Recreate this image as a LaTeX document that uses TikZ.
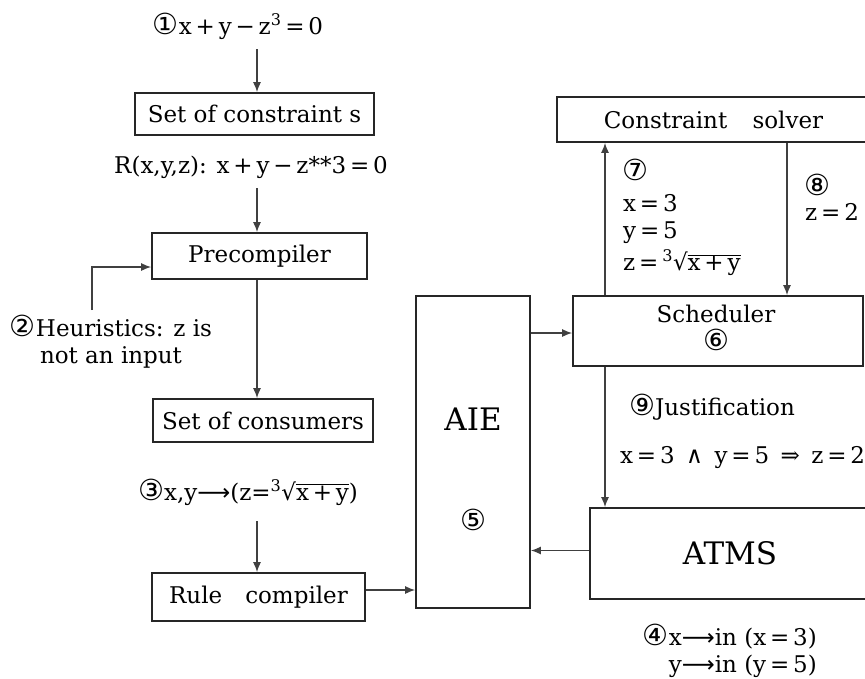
\documentclass[tikz,border=0pt]{standalone}
\usepackage{fontspec}
\setmainfont{DejaVu Serif}
\newfontfamily\cnumfont{DejaVu Sans}
\usetikzlibrary{arrows.meta}
% circled step number, a little larger than the running text
\newcommand\cnum[1]{{\fontsize{29}{29}\selectfont\cnumfont #1}}
% long arrow used in the rules
\newcommand\larr{{\cnumfont ⟶}}
% spaced operator
\newcommand\op[1]{\,#1\,}
% cube root of #1, written the way the figure prints it
\newcommand\cuberoot[1]{\textsuperscript{3}√$\overline{\hbox{#1}}$}
\begin{document}
\begin{tikzpicture}[x=1pt,y=-1pt,
  font=\fontsize{23}{27}\selectfont,
  box/.style={draw=black!85, line width=1.6pt, inner sep=0pt, align=center},
  conn/.style={draw=black!75, line width=1.5pt},
  arr/.style={conn, -{Latex[length=10pt,width=8pt]}},
  lbl/.style={inner sep=0pt, align=left},
  big/.style={font=\fontsize{31}{35}\selectfont}]
\useasboundingbox (0,0) rectangle (865,678);
\clip (0,0) rectangle (865,678);

% columns of the vertical connectors
\coordinate (colL) at (257,0);
\coordinate (colU) at (605,0);
\coordinate (colD) at (787,0);

% ---- left column: compilation pipeline
\node[lbl] (t1) at (238,26) {\cnum{①}x\op+y\op−z\textsuperscript{3}\op=0};
\node[box, minimum width=239pt, minimum height=42pt] (cons) at (254.5,114) {Set of constraint s};
\node[lbl] (rt) at (251,167) {R(x,y,z): x\op+y\op−z**3\op=0};
\node[box, minimum width=215pt, minimum height=46pt] (pre) at (259.5,256) {Precompiler};
\node[lbl, align=center] (heur) at (111,342) {\cnum{②}Heuristics: z is\\not an input};
\coordinate (hs) at (92,310);
\node[box, minimum width=220pt, minimum height=43pt] (consm) at (263,420.5) {Set of consumers};
\node[lbl] (t3) at (248,492) {\cnum{③}x,y\larr(z=\cuberoot{x\op+y})};
\node[box, minimum width=213pt, minimum height=48pt] (rule) at (258.5,597) {Rule\hspace{1em}compiler};

\draw[arr] ([yshift=-10pt]t1.south -| colL) -- (cons.north -| colL);
\draw[arr] ([yshift=-10pt]rt.south -| colL) -- (pre.north -| colL);
\draw[arr] (pre.south -| colL) -- (consm.north -| colL);
\draw[arr] (hs) |- ([yshift=-11pt]pre.west);
\draw[arr] ([yshift=-16pt]t3.south -| colL) -- (rule.north -| colL);

% ---- middle: AIE
\node[box, minimum width=114pt, minimum height=312pt] (aie) at (473,452) {};
\node[lbl, big] (aiet) at (473,419) {AIE};
\node[lbl] (c5) at (473,520) {\cnum{⑤}};
\draw[arr] ([yshift=7pt]rule.east) -- ([yshift=7pt]rule.east -| aie.west);

% ---- right column: solver, scheduler, ATMS
\node[box, minimum width=313pt, minimum height=45pt] (solver) at (713.5,119.5) {Constraint\hspace{1.1em}solver};
\node[box, minimum width=290pt, minimum height=70pt] (sched) at (718,331) {};
\node[lbl] (schedt) at (716,314) {Scheduler};
\node[lbl] (c6) at (716,340) {\cnum{⑥}};
\node[box, minimum width=280pt, minimum height=91pt, big] (atms) at (730,553.5) {ATMS};

\draw[arr] ([yshift=-2pt]sched.west -| aie.east) -- ([yshift=-2pt]sched.west);
\draw[arr] ([yshift=3pt]atms.west) -- ([yshift=3pt]atms.west -| aie.east);
\draw[arr] (sched.north -| colU) -- (solver.south -| colU);
\draw[arr] (solver.south -| colD) -- (sched.north -| colD);
\draw[arr] (sched.south -| colU) -- (atms.north -| colU);

% values passed between scheduler and solver
\node[lbl, anchor=west] (c7) at (622,170) {\cnum{⑦}};
\node[lbl, anchor=west] (v7x) at (623,203) {x\op=3};
\node[lbl, anchor=west] (v7y) at (623,233) {y\op=5};
\node[lbl, anchor=west] (v7z) at (623,263) {z\op=\cuberoot{x\op+y}};
\node[lbl, anchor=west] (c8) at (804,185) {\cnum{⑧}};
\node[lbl, anchor=west] (v8z) at (805,212) {z\op=2};

% justification sent to the ATMS
\node[lbl, anchor=west] (t9) at (629,407) {\cnum{⑨}Justification};
\node[lbl, anchor=west] (tj) at (620,458) {x\op=3\enspace∧\enspace y\op=5\enspace⇒\enspace z\op=2};

% assumptions held by the ATMS
\node[lbl, align=right, anchor=east] (t4) at (817,651) {\cnum{④}x\larr in (x\op=3)\\y\larr in (y\op=5)};
\end{tikzpicture}
\end{document}
